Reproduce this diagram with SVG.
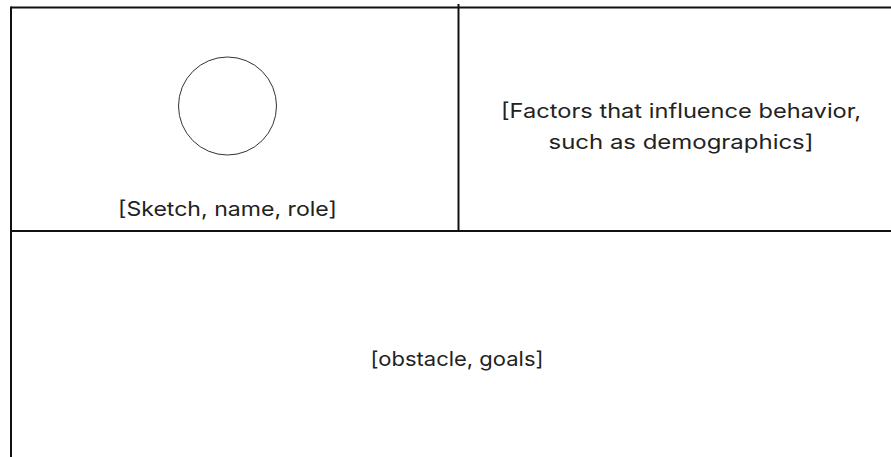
<svg xmlns="http://www.w3.org/2000/svg" width="891" height="457" viewBox="0 0 891 457">
  <style>
    .rule { stroke: #111; stroke-width: 2; fill: none; }
    .label { font-family: Inter, "Open Sans", "DejaVu Sans", sans-serif; font-size: 20px; fill: #222; text-anchor: middle; }
  </style>
  <rect width="891" height="457" fill="#fff"/>
  <g id="frame">
    <line class="rule" x1="11" y1="7.5" x2="891" y2="7.5"/>
    <line class="rule" x1="11" y1="6.5" x2="11" y2="457"/>
    <line class="rule" x1="458.5" y1="4" x2="458.5" y2="231"/>
    <line class="rule" x1="11" y1="231" x2="891" y2="231"/>
  </g>
  <g id="profile">
    <circle cx="227.5" cy="106" r="49" fill="none" stroke="#333" stroke-width="1"/>
    <text class="label" x="227.5" y="216" textLength="219" lengthAdjust="spacingAndGlyphs">[Sketch, name, role]</text>
  </g>
  <g id="factors">
    <text class="label" x="681" y="118" textLength="360" lengthAdjust="spacingAndGlyphs">[Factors that influence behavior,</text>
    <text class="label" x="681" y="149" textLength="265" lengthAdjust="spacingAndGlyphs">such as demographics]</text>
  </g>
  <g id="obstacles">
    <text class="label" x="457" y="366" textLength="173" lengthAdjust="spacingAndGlyphs">[obstacle, goals]</text>
  </g>
</svg>
